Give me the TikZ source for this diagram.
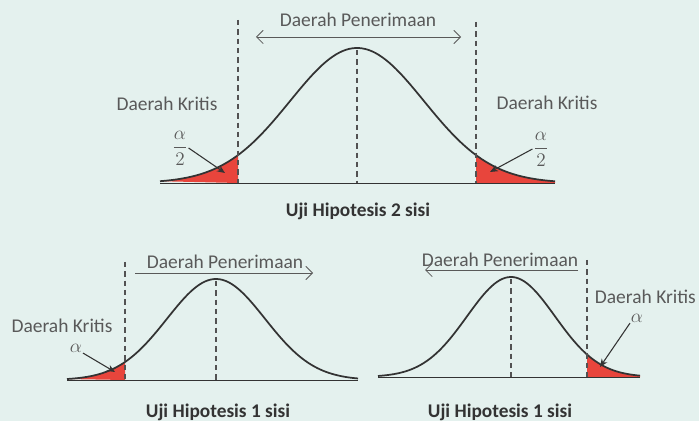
\documentclass[tikz,border=0pt]{standalone}
\usepackage{amsmath}
\usepackage{fontspec}
\setmainfont{Carlito}
\usetikzlibrary{arrows.meta}
\definecolor{BgMint}{HTML}{E4F1EE}
\definecolor{TextGrey}{HTML}{595959}
\definecolor{CurveDark}{HTML}{333333}
\definecolor{TailRed}{HTML}{E8453C}

\begin{document}
\begin{tikzpicture}[x=0.75pt,y=-0.75pt,
    lbl/.style={font=\fontsize{14.6}{17}\selectfont, text=TextGrey, inner sep=0.5pt},
    ttl/.style={font=\fontsize{14.5}{17}\selectfont\bfseries, text=CurveDark},
    bell/.style={CurveDark, line width=1.3pt},
    axisline/.style={CurveDark, line width=0.6pt},
    guide/.style={CurveDark!85, line width=0.8pt, dash pattern=on 4pt off 3pt},
    pointer/.style={CurveDark, line width=0.8pt, -{Stealth[length=6pt,width=5pt]}},
    span/.style={TextGrey, line width=0.6pt}]

  % background
  \fill[BgMint] (0,0) rectangle (699,421);

  % --- two-sided test ---
  \fill[TailRed] plot[domain=160:238, samples=40] (\x, {183-135*exp(-((\x-357)/67)^2/2)}) -- (238,183) -- cycle;
  \fill[TailRed] plot[domain=476:555, samples=40] (\x, {183-135*exp(-((\x-357)/67)^2/2)}) -- (555,183) -- (476,183) -- cycle;
  \draw[axisline] (160,183) -- (555,183);
  \draw[bell] plot[domain=160:555, samples=120] (\x, {183-135*exp(-((\x-357)/67)^2/2)});
  \draw[guide] (238,20) -- (238,183);
  \draw[guide] (357,50) -- (357,183);
  \draw[guide] (476,22) -- (476,183);

  \coordinate (accL) at (256,37);
  \coordinate (accR) at (461,37);
  \draw[span, {Straight Barb[length=5pt]}-{Straight Barb[length=5pt]}] (accL) -- (accR);
  \node[lbl] (acc2) at (358,20) {Daerah Penerimaan};

  \node[lbl] (krit2L) at (167,104) {Daerah Kritis};
  \node[lbl] (krit2R) at (547,103) {Daerah Kritis};
  \node[lbl] (half2L) at (180,148) {$\dfrac{\alpha}{2}$};
  \node[lbl] (half2R) at (541,149) {$\dfrac{\alpha}{2}$};
  \coordinate (tail2L) at (225,173);
  \coordinate (tail2R) at (490,172);
  \draw[pointer] (half2L.east) -- (tail2L);
  \draw[pointer] (half2R.west) -- (tail2R);

  \node[ttl] (uji2) at (358,211) {Uji Hipotesis 2 sisi};

  % --- one-sided test, left tail ---
  \fill[TailRed] plot[domain=67:125, samples=40] (\x, {380-101*exp(-((\x-216)/49)^2/2)}) -- (125,380) -- cycle;
  \draw[axisline] (67,380) -- (358,380);
  \draw[bell] plot[domain=67:358, samples=100] (\x, {380-101*exp(-((\x-216)/49)^2/2)});
  \draw[guide] (125,262) -- (125,380);
  \draw[guide] (216,281) -- (216,380);

  \coordinate (accLs) at (135,273);
  \coordinate (accLe) at (313,273);
  \draw[span, -{Straight Barb[length=5pt]}] (accLs) -- (accLe);
  \node[lbl] (accL1) at (225,262) {Daerah Penerimaan};

  \node[lbl] (kritL1) at (62,326) {Daerah Kritis};
  \node[lbl] (alphaL1) at (76,348) {$\alpha$};
  \coordinate (tailL1) at (115,372);
  \draw[pointer] (alphaL1.south east) -- (tailL1);

  \node[ttl] (ujiL1) at (218,412) {Uji Hipotesis 1 sisi};

  % --- one-sided test, right tail ---
  \fill[TailRed] plot[domain=587:640, samples=40] (\x, {377-100*exp(-((\x-511)/44)^2/2)}) -- (640,377) -- (587,377) -- cycle;
  \draw[axisline] (378,377) -- (640,377);
  \draw[bell] plot[domain=378:640, samples=100] (\x, {377-100*exp(-((\x-511)/44)^2/2)});
  \draw[guide] (587,260) -- (587,377);
  \draw[guide] (511,279) -- (511,377);

  \coordinate (accRs) at (578,270);
  \coordinate (accRe) at (425,270);
  \draw[span, -{Straight Barb[length=5pt]}] (accRs) -- (accRe);
  \node[lbl] (accR1) at (500,260) {Daerah Penerimaan};

  \node[lbl, anchor=west] (kritR1) at (594,297) {Daerah Kritis};
  \node[lbl] (alphaR1) at (637,318) {$\alpha$};
  \coordinate (tailR1) at (600,367);
  \draw[pointer] (alphaR1.south west) -- (tailR1);

  \node[ttl] (ujiR1) at (500,412) {Uji Hipotesis 1 sisi};
\end{tikzpicture}
\end{document}
